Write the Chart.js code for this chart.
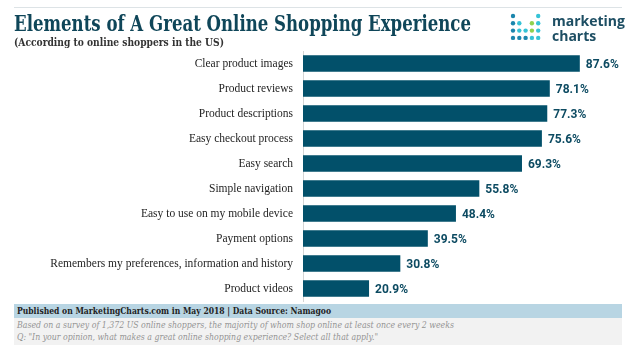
<!DOCTYPE html>
<html>
<head>
<meta charset="utf-8">
<script src="https://cdn.jsdelivr.net/npm/chart.js@4"></script>
<style>
  html, body { margin: 0; padding: 0; background: #fff; }
  #wrap { position: relative; width: 638px; height: 353px; overflow: hidden; }
  #chart-canvas { position: absolute; left: 0; top: 0; }
  .abs { position: absolute; white-space: nowrap; transform-origin: 0 0; }
  #topline { left: 14px; top: 7px; width: 608px; height: 1px; background: #dde3e6; }
  #title { left: 14px; top: 10px; font: bold 22px "DejaVu Serif", serif; color: #0f4659; }
  #subtitle { left: 14px; top: 36px; font: bold 11px "DejaVu Serif", serif; color: #333; }
  #logo-text { left: 552px; top: 13px; font: bold 14px "Open Sans", sans-serif; color: #1d4e63; line-height: 15px; }
  #source { left: 14px; top: 304px; width: 608px; height: 14px; background: #b8d5e3; }
  #notes { left: 14px; top: 318px; width: 608px; height: 27px; background: #f2f2f2; }
  #source-text { left: 17px; top: 305px; font: bold 10px "DejaVu Serif", serif; color: #222; }
  .note { left: 17px; font: italic 9px "DejaVu Serif", serif; color: #949494; }
</style>
</head>
<body>
<div id="wrap">
  <canvas id="chart-canvas" width="638" height="353"></canvas>
  <div id="topline" class="abs"></div>
  <div id="title" class="abs" data-width="457">Elements of A Great Online Shopping Experience</div>
  <div id="subtitle" class="abs" data-width="210">(According to online shoppers in the US)</div>
  <canvas id="logo-dots" class="abs" width="34" height="30" style="left:509px;top:12px"></canvas>
  <div id="logo-text" class="abs">marketing<br>charts</div>
  <div id="source" class="abs"></div>
  <div id="notes" class="abs"></div>
  <div id="source-text" class="abs" data-width="314">Published on MarketingCharts.com in May 2018 | Data Source: Namagoo</div>
  <div class="abs note" style="top:320px" data-width="437">Based on a survey of 1,372 US online shoppers, the majority of whom shop online at least once every 2 weeks</div>
  <div class="abs note" style="top:332px" data-width="361">Q: "In your opinion, what makes a great online shopping experience? Select all that apply."</div>
</div>
<script>
/**
 * Data
 */
const categories = [
    "Clear product images",
    "Product reviews",
    "Product descriptions",
    "Easy checkout process",
    "Easy search",
    "Simple navigation",
    "Easy to use on my mobile device",
    "Payment options",
    "Remembers my preferences, information and history",
    "Product videos"
];
const shareValues = [87.6, 78.1, 77.3, 75.6, 69.3, 55.8, 48.4, 39.5, 30.8, 20.9];

const barColor = "#02506a";
const labelColor = "#0d4b62";


/**
 * Text fitting: squeeze text boxes to the width they have in the reference
 */
for (const el of document.querySelectorAll("[data-width]")) {
    const natural = el.getBoundingClientRect().width;
    const target = parseFloat(el.dataset.width);
    el.style.transform = "scaleX(" + (target / natural) + ")";
}


/**
 * Logo dots
 */
function drawLogo() {
    const ctx = document.getElementById("logo-dots").getContext("2d");
    // rows of dot colours, null = no dot
    const rows = [
        ["#1b86ad", null, null, null, "#36c3d6"],
        ["#1b86ad", "#36c3d6", null, "#8fd14f", "#36c3d6"],
        ["#1b86ad", "#36c3d6", "#36c3d6", "#8fd14f", "#36c3d6"],
        ["#1b86ad", "#1b86ad", "#1b86ad", "#36c3d6", "#36c3d6"]
    ];
    rows.forEach((row, r) => {
        row.forEach((color, c) => {
            if (color == null) return;
            ctx.fillStyle = color;
            ctx.beginPath();
            ctx.arc(4 + c * 6.3, 4 + r * 7.3, 2.2, 0, Math.PI * 2);
            ctx.fill();
        });
    });
}
drawLogo();


/**
 * Chart
 */
const valueLabels = {
    id: "valueLabels",
    afterDatasetsDraw(chart) {
        const ctx = chart.ctx;
        const meta = chart.getDatasetMeta(0);
        ctx.save();
        ctx.font = "bold 12px Roboto, sans-serif";
        ctx.fillStyle = labelColor;
        ctx.textAlign = "left";
        ctx.textBaseline = "middle";
        meta.data.forEach((bar, i) => {
            ctx.fillText(shareValues[i].toFixed(1) + "%", bar.x + 6, bar.y + 1);
        });
        ctx.restore();
    }
};

const shareChart = new Chart(document.getElementById("chart-canvas"), {
    type: "bar",
    data: {
        labels: categories,
        datasets: [{
            data: shareValues,
            backgroundColor: barColor,
            borderWidth: 0,
            categoryPercentage: 1,
            barPercentage: 0.66
        }]
    },
    options: {
        indexAxis: "y",
        responsive: false,
        animation: false,
        layout: {
            padding: { top: 51, bottom: 52, left: 0, right: 19 }
        },
        scales: {
            x: {
                display: false,
                min: 0,
                max: 100
            },
            y: {
                afterFit: function(scale) {
                    scale.width = 303;
                },
                grid: { display: false, drawTicks: false },
                border: { display: true, color: "#d4d4d4", dash: [2, 2] },
                ticks: {
                    padding: 10,
                    color: "#1e1e1e",
                    font: { family: "Liberation Serif", size: 11.5 }
                }
            }
        },
        plugins: {
            legend: { display: false },
            tooltip: { enabled: false }
        }
    },
    plugins: [valueLabels]
});
</script>
</body>
</html>
